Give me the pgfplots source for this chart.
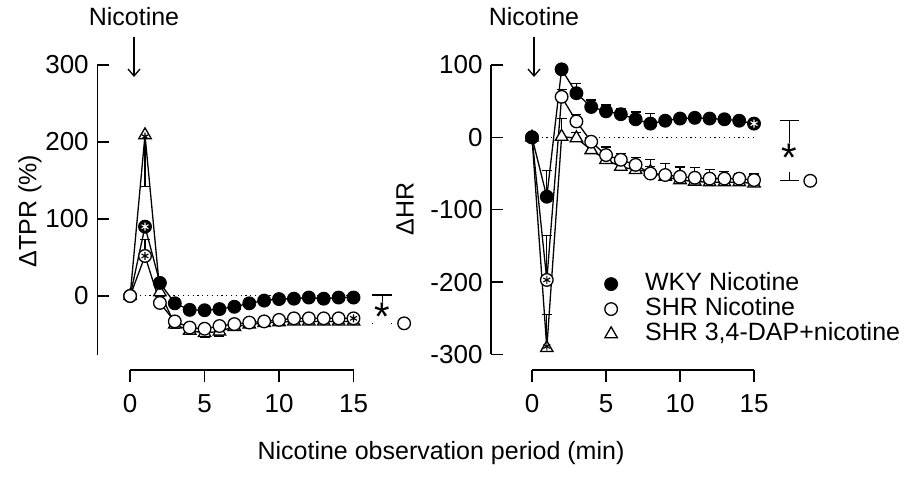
\documentclass[border=0pt]{standalone}
\usepackage{fontspec}
\setmainfont{Liberation Sans}
\usepackage{pgfplots}
\pgfplotsset{compat=1.18}
\usepackage{pgfplotstable}
\usetikzlibrary{arrows.meta}
\newcommand\fs{\fontsize{25bp}{29bp}\selectfont}
\newcommand\ts{\fontsize{26bp}{30bp}\selectfont}

\pgfplotstableread{
t w we s se d de
0 0 0 0 0 0 0
1 90 5 52 21 209 67
2 17 3 -9 3 5 5
3 -9.5 3 -33 3 -37 5
4 -18 3 -41 3 -45 5
5 -18.5 3 -42.5 3 -48 6
6 -17 3 -39 3 -46 6
7 -14 6 -36.5 3 -40 4
8 -9.5 6 -34.5 3 -37 3
9 -6 5 -33 3 -35 3
10 -4 4 -31 3 -34 3
11 -3.5 3 -29 3 -33 3
12 -2 3 -29 3 -33 3
13 -3.5 3 -29 3 -33 3
14 -2 3 -29 3 -33 3
15 -2 3 -29 3 -33 3
}\tpr

\pgfplotstableread{
t w we s se d de
0 0 0 0 0 0 0
1 -82 36 -197 61 -291 46
2 94 4 56 10 1 25
3 61 13 22 10 -1 8
4 42 9.5 -6 5 -17.5 8
5 36 8.6 -24.5 11 -31 10
6 32 8 -31 9 -40.6 10
7 25 10 -38 10 -45 12
8 19 14 -50 10 -47.5 17
9 23 4 -52 16 -54.4 18
10 26 3 -54.4 14 -59 18
11 27 3 -55.8 14 -61 19
12 26 3 -57 13 -62 18
13 25 3 -57 10 -62 15
14 23 3 -57 7 -62 12
15 19 3 -59 9 -63.7 13
}\hr

\pgfplotsset{
  mainax/.style={scale only axis, anchor=south west, clip=false,
    axis x line=none, axis y line=left, xtick=\empty,
    y axis line style={-, line width=1.3bp},
    ytick style={line width=1.3bp, black},
    tick align=inside, major tick length=12bp,
    /pgf/number format/assume math mode=true,
    yticklabel style={font=\ts, xshift=-5bp},
  },
  xax/.style={scale only axis, anchor=south west, height=10bp,
    ymin=0, ymax=1, axis y line=none, axis x line=bottom, ytick=\empty,
    x axis line style={-, line width=1.3bp},
    xtick style={line width=1.3bp, black},
    tick align=outside, major tick length=12bp,
    xtick={0,5,10,15}, xmin=0, xmax=15,
    /pgf/number format/assume math mode=true,
    xticklabel style={font=\ts, yshift=-9bp},
  },
  ln/.style={black, line width=1.3bp},
  ebar/.style={error bars/y explicit, error bars/y dir=#1,
    error bars/error bar style={line width=1.3bp, black},
    error bars/error mark options={line width=1.3bp, black, mark size=5bp, rotate=90}},
  fc/.style={ln, mark=*, mark size=6.3bp, mark options={fill=black, solid}},
  oc/.style={ln, mark=*, mark size=6.3bp, mark options={fill=white, solid}},
  tr/.style={ln, mark=triangle*, mark size=7.2bp, mark options={fill=white, solid}},
  zl/.style={black, line width=1bp, dash pattern=on 1.2bp off 3.6bp},
}

\begin{document}
\begin{tikzpicture}[x=1bp,y=1bp]
\useasboundingbox (0,0) rectangle (909,477);

% ---------- left panel ----------
\begin{axis}[mainax, at={(97.2bp,121.7bp)}, width=256.3bp, height=290.3bp,
  xmin=-2.21, xmax=15, ymin=-77, ymax=300, ytick={0,100,200,300}]
\addplot[zl, forget plot] coordinates {(0,0) (15,0)};
\addplot[tr, ebar=minus] table[x=t, y=d, y error=de] {\tpr};
\addplot[fc, ebar=plus] table[x=t, y=w, y error=we] {\tpr};
\addplot[oc, ebar=plus] table[x=t, y=s, y error=se] {\tpr};
\addplot[only marks, mark=asterisk, mark size=4bp, white, line width=1.1bp] coordinates {(1,90)};
\addplot[only marks, mark=asterisk, mark size=4bp, black, line width=1.1bp] coordinates {(1,52) (1,207) (15,-29)};
% significance bracket
\draw[line width=1.3bp] (axis cs:16.26,1.3) -- (axis cs:17.6,1.3);
\draw[line width=1.3bp] (axis cs:16.26,-35.5) -- (axis cs:17.6,-35.5);
\draw[line width=1.3bp] (axis cs:16.93,1.3) -- (axis cs:16.93,-35.5);
\node[fill=white, inner sep=1bp, font=\fontsize{40bp}{40bp}\selectfont] at (axis cs:16.93,-27.5) {*};
\addplot[oc, only marks] coordinates {(18.4,-35.5)};
\end{axis}
\begin{axis}[xax, at={(130bp,107bp)}, width=223.5bp]
\end{axis}

% ---------- right panel ----------
\begin{axis}[mainax, at={(491bp,122.5bp)}, width=263bp, height=289.5bp,
  xmin=-2.77, xmax=15, ymin=-300, ymax=100, ytick={-300,-200,-100,0,100},
  legend style={draw=none, fill=none, font=\fs, at={(axis cs:4.59,-184.5)}, anchor=north west,
    nodes={inner sep=0pt, text height=17bp, text depth=5bp}, row sep=3bp, column sep=26bp},
  legend cell align=left,
  legend image code/.code={\path[draw=none, fill=none] (0bp,-6bp) rectangle (16bp,6bp); \draw[#1] plot coordinates {(8bp,0bp)};}]
\addplot[zl, forget plot] coordinates {(0,0) (15,0)};
\addplot[tr, ebar=plus, forget plot] table[x=t, y=d, y error=de] {\hr};
\addplot[oc, ebar=plus, forget plot] table[x=t, y=s, y error=se] {\hr};
\addplot[fc, ebar=plus, forget plot] table[x=t, y=w, y error=we] {\hr};
\addplot[only marks, mark=asterisk, mark size=4bp, white, line width=1.1bp, forget plot] coordinates {(15,19)};
\addplot[only marks, mark=asterisk, mark size=4bp, black, line width=1.1bp, forget plot] coordinates {(1,-197) (1,-289)};
\draw[line width=1.3bp] (axis cs:16.76,23) -- (axis cs:18.04,23);
\draw[line width=1.3bp] (axis cs:16.76,-60) -- (axis cs:18.04,-60);
\draw[line width=1.3bp] (axis cs:17.39,23) -- (axis cs:17.39,-60);
\node[fill=white, inner sep=1bp, font=\fontsize{40bp}{40bp}\selectfont] at (axis cs:17.39,-27.5) {*};
\addplot[oc, only marks, forget plot] coordinates {(18.8,-60)};
\addlegendimage{only marks, black, line width=1.3bp, mark=*, mark size=6.3bp, mark options={fill=black}}
\addlegendentry{WKY Nicotine}
\addlegendimage{only marks, black, line width=1.3bp, mark=*, mark size=6.3bp, mark options={fill=white}}
\addlegendentry{SHR Nicotine}
\addlegendimage{only marks, black, line width=1.3bp, mark=triangle*, mark size=7.2bp, mark options={fill=white}}
\addlegendentry{SHR 3,4-DAP+nicotine}
\end{axis}
\begin{axis}[xax, at={(532bp,107bp)}, width=222bp]
\end{axis}

% ---------- labels ----------
\node[font=\fs] at (134,460) {Nicotine};
\draw[line width=1.3bp, -{Straight Barb[length=7bp, width=12bp]}] (134,440) -- (134,400);
\node[font=\fs] at (534,460) {Nicotine};
\draw[line width=1.3bp, -{Straight Barb[length=7bp, width=12bp]}] (534,440) -- (534,400);
\node[font=\fs, rotate=90] at (30,266) {ΔTPR (\%)};
\node[font=\fs, rotate=90] at (405,268) {ΔHR};
\node[font=\fs] at (441,24) {Nicotine observation period (min)};
\end{tikzpicture}
\end{document}
